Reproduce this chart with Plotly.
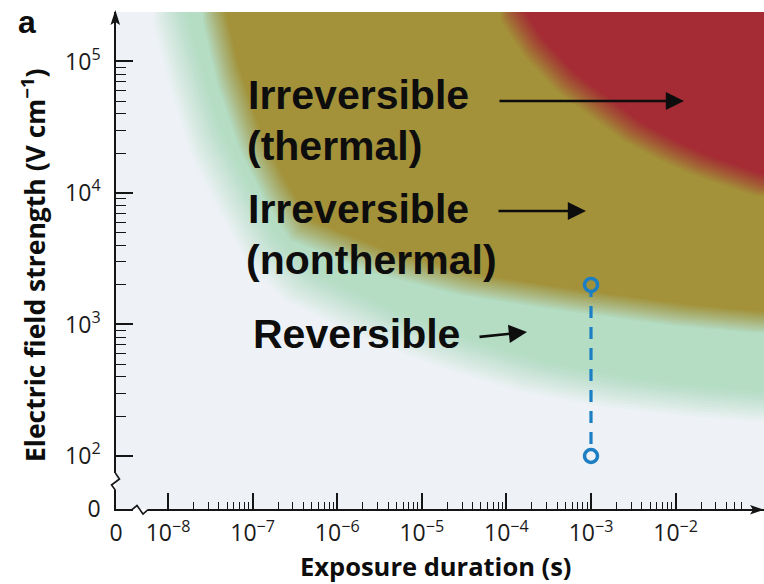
import plotly.graph_objects as go

# ---------------- data ----------------
# axis extents (log10 units)
X_RANGE_LOG = [-8.615, -0.955]
Y_RANGE_LOG = [1.597, 5.376]

x_tick_labels = ["0", "10<sup>−8</sup>", "10<sup>−7</sup>", "10<sup>−6</sup>", "10<sup>−5</sup>",
                 "10<sup>−4</sup>", "10<sup>−3</sup>", "10<sup>−2</sup>"]
x_tick_values = [10 ** (X_RANGE_LOG[0] + 0.002), 1e-8, 1e-7, 1e-6, 1e-5, 1e-4, 1e-3, 1e-2]
y_tick_labels = ["0", "10<sup>2</sup>", "10<sup>3</sup>", "10<sup>4</sup>", "10<sup>5</sup>"]
y_tick_values = [10 ** (Y_RANGE_LOG[0] + 0.002), 1e2, 1e3, 1e4, 1e5]

x_minor_values = [k * 10.0 ** e for e in range(-8, -2) for k in range(2, 10)] + \
                 [k * 1e-2 for k in range(2, 7)]
y_minor_values = [k * 10.0 ** e for e in range(2, 5) for k in range(2, 10)]

# region boundaries (exposure duration in s, field strength in V/cm)
reversible_t = [1.0e-8, 1.59e-8, 2.74e-8, 6.19e-8, 1.29e-7, 3.63e-7, 3.21e-6, 2.83e-5,
                2.06e-4, 2.20e-3, 1.95e-2, 0.111]
reversible_E = [2.38e5, 7.89e4, 2.53e4, 8.85e3, 3.69e3, 1.93e3, 991, 586,
                399, 301, 258, 236]

nonthermal_t = [3.40e-8, 5.12e-8, 9.31e-8, 1.84e-7, 3.63e-7, 3.21e-6, 3.72e-5,
                5.65e-4, 1.13e-2, 0.111]
nonthermal_E = [2.38e5, 7.89e4, 2.53e4, 1.05e4, 5.24e3, 2.99e3, 2.0e3,
                1.53e3, 1.18e3, 1.03e3]

thermal_t = [1.10e-4, 2.06e-4, 5.20e-4, 1.28e-3, 3.13e-3, 7.91e-3, 1.95e-2, 0.111]
thermal_E = [2.38e5, 1.29e5, 6.87e4, 4.43e4, 2.91e4, 2.12e4, 1.63e4, 1.11e4]

# measurement marker (top point first)
meas_t = [1e-3, 1e-3]
meas_E = [2000, 100]

# ---------------- styling / geometry ----------------
W, H = 764, 584
ML, MR, MT, MB = 116, 0, 12, 75
PW, PH = W - ML - MR, H - MT - MB
PX_X = PW / (X_RANGE_LOG[1] - X_RANGE_LOG[0])
PX_Y = PH / (Y_RANGE_LOG[1] - Y_RANGE_LOG[0])

BG = "#eef2f6"
C_GREEN = (180, 221, 196)
C_OLIVE = (163, 146, 58)
C_RED = (165, 43, 53)
INK = "#151515"
BLUE = "#1c7fc4"


def P(px, py):
    return (px - ML) / PW, (H - MB - py) / PH


def rgb_css(c):
    return f"rgb({c[0]},{c[1]},{c[2]})"


fig = go.Figure()


def add_region(t, E, rgb, half_w, n=12):
    for i in range(n):
        s = -half_w + 2 * half_w * i / (n - 1)
        fx = 10 ** (s / PX_X)
        fy = 10 ** (s / PX_Y)
        xs = [v * fx for v in t] + [t[-1] * fx * 100, t[-1] * fx * 100, t[0] * fx]
        ys = [v * fy for v in E] + [E[-1] * fy, 1e9, 1e9]
        a = 1.0 / (n - i)
        fig.add_trace(go.Scatter(
            x=xs, y=ys, mode="lines", fill="toself",
            fillcolor=f"rgba({rgb[0]},{rgb[1]},{rgb[2]},{a:.4f})",
            line=dict(width=0), hoverinfo="skip", showlegend=False))


add_region(reversible_t, reversible_E, C_GREEN, 14)
add_region(nonthermal_t, nonthermal_E, C_OLIVE, 10)
add_region(thermal_t, thermal_E, C_RED, 9)

fig.add_trace(go.Scatter(
    x=meas_t, y=meas_E, mode="lines+markers",
    line=dict(color=BLUE, width=3.2, dash="12px,9px"),
    marker=dict(symbol="circle", size=13, color=[rgb_css(C_OLIVE), BG],
                line=dict(color=BLUE, width=3.5)),
    hoverinfo="skip", showlegend=False))

tickfont = dict(family="Open Sans", size=23, color="#1a1a1a")

fig.update_xaxes(
    type="log", range=X_RANGE_LOG, showgrid=False, zeroline=False,
    showline=True, linecolor=INK, linewidth=1.6,
    ticks="inside", ticklen=16, tickwidth=1.5, tickcolor=INK,
    tickmode="array", tickvals=x_tick_values, ticktext=x_tick_labels,
    tickfont=tickfont, ticklabelstandoff=3,
    minor=dict(tickmode="array", tickvals=x_minor_values, ticks="inside",
               ticklen=7, tickwidth=1.3, tickcolor=INK, showgrid=False))
fig.update_yaxes(
    type="log", range=Y_RANGE_LOG, showgrid=False, zeroline=False,
    showline=True, linecolor=INK, linewidth=1.6,
    ticks="inside", ticklen=17, tickwidth=1.5, tickcolor=INK,
    tickmode="array", tickvals=y_tick_values, ticktext=y_tick_labels,
    tickfont=tickfont, ticklabelstandoff=9,
    minor=dict(tickmode="array", tickvals=y_minor_values, ticks="inside",
               ticklen=10, tickwidth=1.3, tickcolor=INK, showgrid=False))

shapes = []


def path(points, closed=False):
    pts = [P(*p) for p in points]
    d = "M" + " L".join(f"{x:.5f},{y:.5f}" for x, y in pts)
    return d + (" Z" if closed else "")


# axis arrowheads
shapes.append(dict(type="path", xref="paper", yref="paper", layer="above",
                   path=path([(115.3, 10), (110.5, 25), (115.3, 22), (120.1, 25)], True),
                   fillcolor=INK, line=dict(width=0)))
shapes.append(dict(type="path", xref="paper", yref="paper", layer="above",
                   path=path([(764, 509.7), (750, 505), (753, 509.7), (750, 514.4)], True),
                   fillcolor=INK, line=dict(width=0)))
# axis breaks: masks then squiggles
shapes.append(dict(type="rect", xref="paper", yref="paper", layer="above",
                   x0=P(110, 0)[0], x1=P(116, 0)[0], y0=P(0, 490)[1], y1=P(0, 473)[1],
                   fillcolor="white", line=dict(width=0)))
shapes.append(dict(type="rect", xref="paper", yref="paper", layer="above",
                   x0=P(116, 0)[0], x1=P(121, 0)[0], y0=P(0, 490)[1], y1=P(0, 473)[1],
                   fillcolor=BG, line=dict(width=0)))
shapes.append(dict(type="path", xref="paper", yref="paper", layer="above",
                   path=path([(115.3, 473), (119.5, 479), (111.5, 485), (115.3, 490)]),
                   line=dict(color=INK, width=1.6)))
shapes.append(dict(type="rect", xref="paper", yref="paper", layer="above",
                   x0=P(133, 0)[0], x1=P(148, 0)[0], y0=P(0, 512)[1], y1=P(0, 508.8)[1],
                   fillcolor="white", line=dict(width=0)))
shapes.append(dict(type="rect", xref="paper", yref="paper", layer="above",
                   x0=P(133, 0)[0], x1=P(148, 0)[0], y0=P(0, 508.8)[1], y1=P(0, 506)[1],
                   fillcolor=BG, line=dict(width=0)))
shapes.append(dict(type="path", xref="paper", yref="paper", layer="above",
                   path=path([(132, 509.7), (137, 505.5), (143, 514), (148, 509.7)]),
                   line=dict(color=INK, width=1.6)))

annotations = []
lab_font = dict(family="Liberation Sans", size=41, color="#0d0d0d", weight="bold")
for txt, px, py in [("Irreversible", 246, 95), ("(thermal)", 245, 146),
                    ("Irreversible", 246, 209), ("(nonthermal)", 244, 260),
                    ("Reversible", 251, 334)]:
    x, y = P(px, py)
    annotations.append(dict(text=txt, x=x, y=y, xref="paper", yref="paper",
                            xanchor="left", yanchor="middle", showarrow=False,
                            font=lab_font))

for tip, start in [((684, 101), (498, 101)), ((586, 211), (497, 211)),
                   ((527, 332), (478, 337))]:
    x, y = P(*tip)
    annotations.append(dict(text="", x=x, y=y, xref="paper", yref="paper",
                            ax=start[0] - tip[0], ay=start[1] - tip[1],
                            showarrow=True, arrowhead=2, arrowsize=1.4,
                            arrowwidth=2.6, arrowcolor="#0d0d0d", standoff=0))

x, y = P(27, 22)
annotations.append(dict(text="a", x=x, y=y, xref="paper", yref="paper",
                        xanchor="center", yanchor="middle", showarrow=False,
                        font=dict(family="Liberation Sans", size=32, color="#0d0d0d",
                                  weight="bold")))
x, y = P(33, 265)
annotations.append(dict(text="Electric field strength (V cm<sup>−1</sup>)", x=x, y=y,
                        xref="paper", yref="paper", textangle=-90,
                        xanchor="center", yanchor="middle", showarrow=False,
                        font=dict(family="Open Sans", size=26.5, color="#0d0d0d",
                                  weight="bold")))
x, y = P(436, 566)
annotations.append(dict(text="Exposure duration (s)", x=x, y=y,
                        xref="paper", yref="paper",
                        xanchor="center", yanchor="middle", showarrow=False,
                        font=dict(family="Open Sans", size=25.5, color="#0d0d0d",
                                  weight="bold")))

fig.update_layout(
    width=W, height=H, margin=dict(l=ML, r=MR, t=MT, b=MB, pad=0),
    paper_bgcolor="white", plot_bgcolor=BG,
    shapes=shapes, annotations=annotations, showlegend=False)

fig.write_html("out.html", config={"displayModeBar": False},
               post_script="document.body.style.margin='0';document.body.style.overflow='hidden';")
